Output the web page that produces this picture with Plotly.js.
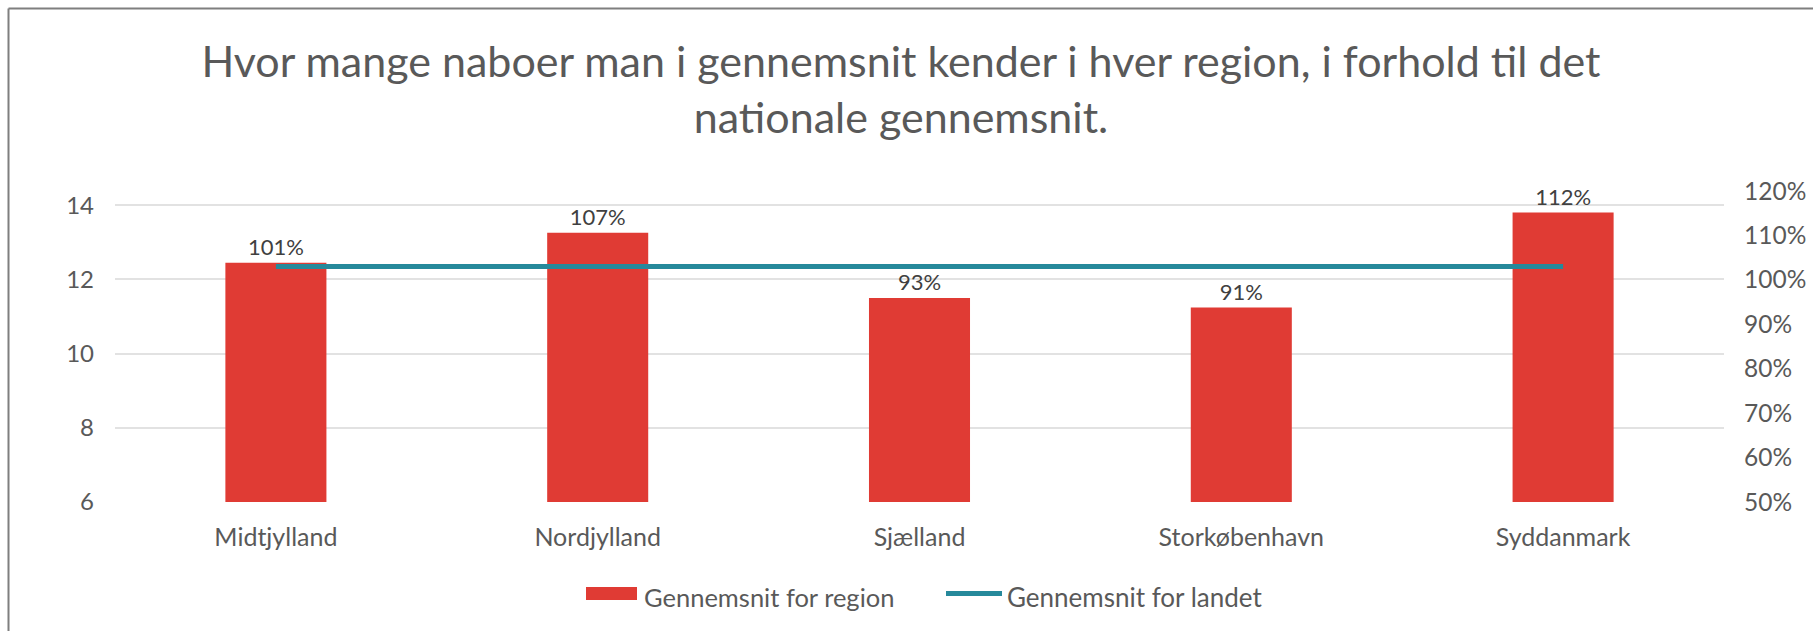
<!DOCTYPE html>
<html><head><meta charset="utf-8">
<script src="https://cdn.plot.ly/plotly-3.0.1.min.js"></script>
<style>html,body{margin:0;padding:0;background:#fff}#chart{width:1813px;height:631px}</style>
</head><body><div id="chart"></div>
<script>
// ---- data ----
const regions = ['Midtjylland', 'Nordjylland', 'Sjælland', 'Storkøbenhavn', 'Syddanmark'];
const regionAvg = [12.45, 13.26, 11.50, 11.24, 13.80];
const nationalAvg = [12.35, 12.35, 12.35, 12.35, 12.35];
const relativeToNational = [1.01, 1.07, 0.93, 0.91, 1.12];
const leftTicks = [6, 8, 10, 12, 14];
const rightTicks = [0.5, 0.6, 0.7, 0.8, 0.9, 1.0, 1.1, 1.2];
const seriesNames = ['Gennemsnit for region', 'Gennemsnit for landet'];
const titleText = 'Hvor mange naboer man i gennemsnit kender i hver region, i forhold til det<br>nationale gennemsnit.';

// ---- layout helpers ----
const W = 1813, H = 631, M = {l: 115, r: 89, t: 191, b: 129};
const PW = W - M.l - M.r, PH = H - M.t - M.b;
const px = x => (x - M.l) / PW;
const py = y => (H - M.b - y) / PH;
const FONT = 'Lato, "Open Sans", sans-serif';
const RED = '#E03B34', TEAL = '#26899B', GREY = '#595959';

const traces = [
  {
    type: 'bar', x: regions, y: regionAvg, name: seriesNames[0],
    marker: {color: RED},
    text: relativeToNational.map(v => Math.round(v * 100) + '%'),
    textposition: 'outside', cliponaxis: false,
    textfont: {family: FONT, size: 22, color: '#404040'},
    hoverinfo: 'x+y', showlegend: false
  },
  {
    type: 'scatter', mode: 'lines', x: regions, y: nationalAvg, name: seriesNames[1],
    line: {color: TEAL, width: 5}, showlegend: false
  },
  {
    type: 'scatter', mode: 'markers', x: regions, y: relativeToNational, yaxis: 'y2',
    marker: {opacity: 0}, hoverinfo: 'skip', showlegend: false
  }
];

const layout = {
  width: W, height: H,
  margin: M,
  paper_bgcolor: '#fff', plot_bgcolor: '#fff',
  font: {family: FONT, color: GREY},
  title: {
    text: titleText,
    font: {family: FONT, size: 43, color: GREY},
    xref: 'container', x: 901 / W, xanchor: 'center',
    yref: 'container', y: 1 - 77 / H, yanchor: 'top'
  },
  bargap: 0.686,
  showlegend: false,
  xaxis: {
    type: 'category', showgrid: false, zeroline: false, showline: false,
    ticks: '', ticklabelstandoff: 18,
    tickfont: {family: FONT, size: 25, color: GREY}
  },
  yaxis: {
    range: [6, 6 + 2 * PH / 74.2], tickvals: leftTicks, ticktext: leftTicks.map(String),
    showgrid: true, gridcolor: '#E2E2E2', gridwidth: 2,
    zeroline: false, showline: false, ticks: '', ticklabelstandoff: 20,
    tickfont: {family: FONT, size: 24, color: GREY}
  },
  yaxis2: {
    overlaying: 'y', side: 'right',
    range: [0.5, 1.2], tickvals: rightTicks, tickformat: '.0%',
    showgrid: false, zeroline: false, showline: false, ticks: '', ticklabelstandoff: 19,
    tickfont: {family: FONT, size: 24.5, color: GREY}
  },
  shapes: [
    // chart frame (top and left edges visible)
    {type: 'line', xref: 'paper', yref: 'paper', x0: px(8.5), x1: px(W + 5), y0: py(8.5), y1: py(8.5), line: {color: '#7F7F7F', width: 2}},
    {type: 'line', xref: 'paper', yref: 'paper', x0: px(8.5), x1: px(8.5), y0: py(8.5), y1: py(H + 5), line: {color: '#7F7F7F', width: 2}},
    // legend symbols
    {type: 'rect', xref: 'paper', yref: 'paper', x0: px(586), x1: px(637), y0: py(600), y1: py(587), fillcolor: RED, line: {width: 0}},
    {type: 'line', xref: 'paper', yref: 'paper', x0: px(946), x1: px(1002), y0: py(593.5), y1: py(593.5), line: {color: TEAL, width: 5}}
  ],
  annotations: [
    {xref: 'paper', yref: 'paper', x: px(642), y: py(597), xanchor: 'left', yanchor: 'middle', showarrow: false,
     text: seriesNames[0], font: {family: FONT, size: 25.5, color: GREY}},
    {xref: 'paper', yref: 'paper', x: px(1005), y: py(597), xanchor: 'left', yanchor: 'middle', showarrow: false,
     text: seriesNames[1], font: {family: FONT, size: 26, color: GREY}}
  ]
};

Plotly.newPlot('chart', traces, layout, {displayModeBar: false});
</script></body></html>
